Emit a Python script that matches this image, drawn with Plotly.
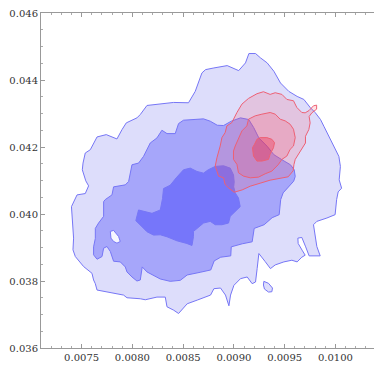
import plotly.graph_objects as go

# Blue density contours (outer, middle, inner levels)
blue_outer_x = [0.00740, 0.007455, 0.007536, 0.007569, 0.007541, 0.007507, 0.007514, 0.007536, 0.007586, 0.007602,
                0.007652, 0.007743, 0.007766, 0.007848, 0.007898, 0.00794, 0.008045, 0.008078, 0.008144, 0.008258,
                0.008406, 0.008553, 0.008619, 0.008685, 0.008721, 0.008803, 0.008934, 0.009047, 0.009114, 0.009148,
                0.009213, 0.009262, 0.009328, 0.009394, 0.009459, 0.009541, 0.009623, 0.009689, 0.009754, 0.0098,
                0.009853, 0.009886, 0.009918, 0.009984, 0.010034, 0.010049, 0.010037, 0.010061, 0.010027, 0.010012,
                0.009997, 0.009916, 0.009817, 0.009784, 0.0098, 0.009817, 0.00985, 0.009741, 0.009707, 0.009669,
                0.00963, 0.009633, 0.009672, 0.009702, 0.009669, 0.009623, 0.009571, 0.009492, 0.009407, 0.00936,
                0.009308, 0.009259, 0.009246, 0.009229, 0.009213, 0.00918, 0.009131, 0.009065, 0.009, 0.008967,
                0.008951, 0.008917, 0.008868, 0.008803, 0.00877, 0.008639, 0.00854, 0.008455, 0.008406, 0.008341,
                0.008324, 0.008242, 0.008127, 0.008078, 0.007947, 0.007913, 0.007832, 0.00775, 0.007652, 0.007635,
                0.007618, 0.007602, 0.00752, 0.007438, 0.007415, 0.007421, 0.007406]
blue_outer_y = [0.04022, 0.04057, 0.04061, 0.04084, 0.04099, 0.04132, 0.04152, 0.04182, 0.04192, 0.04202,
                0.04230, 0.04237, 0.04234, 0.04224, 0.04252, 0.04272, 0.04287, 0.04297, 0.04324, 0.04327,
                0.04333, 0.04332, 0.04366, 0.04421, 0.04431, 0.04436, 0.04443, 0.04428, 0.04451, 0.04479,
                0.04479, 0.04466, 0.04451, 0.04426, 0.04391, 0.04366, 0.04351, 0.04342, 0.04317, 0.04303,
                0.04282, 0.04262, 0.04242, 0.04202, 0.04172, 0.04142, 0.04102, 0.04077, 0.04066, 0.04043,
                0.03998, 0.03988, 0.03978, 0.03968, 0.03933, 0.03903, 0.03875, 0.03875, 0.03902, 0.03930,
                0.03928, 0.03912, 0.03892, 0.03877, 0.03871, 0.03857, 0.03862, 0.03857, 0.03848, 0.03837,
                0.03858, 0.03878, 0.03882, 0.03837, 0.03797, 0.03792, 0.03812, 0.03807, 0.03787, 0.03758,
                0.03726, 0.03758, 0.03779, 0.03777, 0.03758, 0.03743, 0.03732, 0.03703, 0.03713, 0.03723,
                0.03752, 0.03752, 0.03744, 0.03747, 0.03750, 0.03758, 0.03762, 0.03768, 0.03773, 0.03792,
                0.03803, 0.03823, 0.03843, 0.03873, 0.03893, 0.03928, 0.04013]

blue_island_x = [0.009295, 0.009341, 0.00938, 0.009374, 0.009341, 0.009301, 0.009291]
blue_island_y = [0.03799, 0.03793, 0.03779, 0.03768, 0.03767, 0.03776, 0.03788]

blue_mid_x = [0.007815, 0.00793, 0.007963, 0.007996, 0.008061, 0.00811, 0.008176, 0.008242, 0.008291, 0.008341,
              0.008422, 0.008455, 0.008504, 0.008602, 0.008701, 0.008767, 0.008836, 0.008898, 0.008974, 0.009065,
              0.009146, 0.009195, 0.009246, 0.009328, 0.009394, 0.009473, 0.009557, 0.009594, 0.009604, 0.009589,
              0.009535, 0.009485, 0.009461, 0.009446, 0.009377, 0.009298, 0.0092, 0.00918, 0.009082, 0.008974,
              0.008969, 0.00887, 0.008806, 0.008772, 0.008668, 0.00854, 0.008472, 0.008373, 0.008275, 0.008209,
              0.008144, 0.008097, 0.008078, 0.008045, 0.007996, 0.007947, 0.00793, 0.007881, 0.007815, 0.007783,
              0.00775, 0.007717, 0.007701, 0.007652, 0.007618, 0.007618, 0.007635, 0.007635, 0.007667, 0.007717,
              0.007717, 0.007733, 0.007799]
blue_mid_y = [0.04081, 0.04087, 0.04097, 0.04147, 0.04152, 0.04172, 0.04212, 0.04227, 0.04250, 0.04240,
              0.04240, 0.04270, 0.04280, 0.04282, 0.04284, 0.04277, 0.04265, 0.04264, 0.04277, 0.04287,
              0.04282, 0.04258, 0.04227, 0.04202, 0.04177, 0.04162, 0.04147, 0.04132, 0.04112, 0.04098,
              0.04078, 0.04063, 0.04043, 0.03998, 0.03989, 0.03968, 0.03957, 0.03917, 0.03911, 0.03902,
              0.03875, 0.03871, 0.03860, 0.03833, 0.03826, 0.03818, 0.03802, 0.03799, 0.03806, 0.03817,
              0.03827, 0.03842, 0.03803, 0.03800, 0.03812, 0.03827, 0.03842, 0.03857, 0.03859, 0.03888,
              0.03903, 0.03898, 0.03873, 0.03865, 0.03878, 0.03902, 0.03927, 0.03957, 0.03973, 0.03993,
              0.04037, 0.04043, 0.04057]

blue_gap_x = [0.007783, 0.007815, 0.007864, 0.007881, 0.007848, 0.007815, 0.007789]
blue_gap_y = [0.03948, 0.03951, 0.03933, 0.03918, 0.03913, 0.03918, 0.03928]

blue_core_x = [0.008307, 0.008373, 0.008432, 0.008504, 0.00857, 0.008636, 0.008701, 0.008747, 0.008816, 0.008898,
               0.008964, 0.008996, 0.009003, 0.008998, 0.009013, 0.009045, 0.009062, 0.00903, 0.008964, 0.008947,
               0.008882, 0.008816, 0.008767, 0.008701, 0.008602, 0.008602, 0.008587, 0.008537, 0.008439, 0.008341,
               0.008275, 0.008209, 0.008144, 0.008078, 0.008034, 0.008061, 0.008193, 0.008275, 0.008297]
blue_core_y = [0.04076, 0.04086, 0.04108, 0.04132, 0.04137, 0.04127, 0.04122, 0.04132, 0.04142, 0.04144,
               0.04137, 0.04117, 0.04096, 0.04081, 0.04063, 0.04048, 0.04022, 0.04013, 0.03993, 0.03973,
               0.03968, 0.03968, 0.03978, 0.03973, 0.03948, 0.03933, 0.03906, 0.03912, 0.03920, 0.03932,
               0.03938, 0.03937, 0.03947, 0.03967, 0.03980, 0.04012, 0.04002, 0.04012, 0.04046]

# Red density contours (outer, middle, inner levels)
red_outer_x = [0.00903, 0.009079, 0.009144, 0.009227, 0.009291, 0.009357, 0.009407, 0.009473, 0.009522, 0.009587,
               0.00962, 0.009669, 0.009702, 0.009741, 0.009784, 0.009815, 0.009815, 0.009768, 0.009741, 0.009751,
               0.009738, 0.009705, 0.009705, 0.009656, 0.009604, 0.009591, 0.009584, 0.009535, 0.009456, 0.009357,
               0.009259, 0.009161, 0.009082, 0.009003, 0.008947, 0.008914, 0.008898, 0.008849, 0.008833, 0.008816,
               0.008833, 0.008849, 0.008865, 0.008882, 0.008914, 0.008931, 0.00898]
red_outer_y = [0.04303, 0.04328, 0.04345, 0.04359, 0.04365, 0.04357, 0.04362, 0.04357, 0.04342, 0.04338,
               0.04318, 0.04303, 0.04302, 0.04309, 0.04323, 0.04325, 0.04313, 0.04302, 0.04291, 0.04272,
               0.04252, 0.04232, 0.04212, 0.04187, 0.04163, 0.04147, 0.04129, 0.04111, 0.04107, 0.04101,
               0.04092, 0.04083, 0.04072, 0.04065, 0.04078, 0.04088, 0.04108, 0.04113, 0.04128, 0.04143,
               0.04168, 0.04183, 0.04203, 0.04228, 0.04243, 0.04263, 0.04273]

red_mid_x = [0.009144, 0.00921, 0.009276, 0.009357, 0.009407, 0.009456, 0.009505, 0.009554, 0.009587, 0.009604,
             0.009587, 0.009554, 0.009522, 0.009473, 0.009436, 0.009374, 0.009308, 0.009242, 0.009161, 0.009095,
             0.009045, 0.00903, 0.008996, 0.008996, 0.009013, 0.009045, 0.009079, 0.009128]
red_mid_y = [0.04283, 0.04293, 0.04298, 0.04303, 0.04298, 0.04283, 0.04278, 0.04268, 0.04253, 0.04228,
             0.04203, 0.04193, 0.04173, 0.04163, 0.04147, 0.04128, 0.04120, 0.04110, 0.04108, 0.04113,
             0.04123, 0.04148, 0.04163, 0.04188, 0.04203, 0.04223, 0.04248, 0.04263]

red_core_x = [0.009227, 0.009259, 0.009325, 0.009374, 0.0094, 0.00939, 0.009357, 0.009341, 0.009276, 0.009227,
              0.009193, 0.009183, 0.009203]
red_core_y = [0.04223, 0.04228, 0.04228, 0.04223, 0.04213, 0.04198, 0.04178, 0.04163, 0.04158, 0.04158,
              0.04173, 0.04198, 0.04208]

x_ticks = [0.0075, 0.0080, 0.0085, 0.0090, 0.0095, 0.0100]
x_labels = ["0.0075", "0.0080", "0.0085", "0.0090", "0.0095", "0.0100"]
y_ticks = [0.036, 0.038, 0.040, 0.042, 0.044, 0.046]
y_labels = ["0.036", "0.038", "0.040", "0.042", "0.044", "0.046"]

BLUE_LINE = "rgb(118,118,246)"
RED_LINE = "rgb(238,96,116)"

layers = [
    (blue_outer_x, blue_outer_y, "rgb(221,221,251)", BLUE_LINE),
    (blue_island_x, blue_island_y, "rgb(221,221,251)", BLUE_LINE),
    (blue_mid_x, blue_mid_y, "rgb(166,166,250)", BLUE_LINE),
    (blue_gap_x, blue_gap_y, "rgb(246,246,255)", BLUE_LINE),
    (blue_core_x, blue_core_y, "rgb(118,118,250)", BLUE_LINE),
    (red_outer_x, red_outer_y, "rgba(255,70,90,0.16)", RED_LINE),
    (red_mid_x, red_mid_y, "rgba(255,70,90,0.2)", RED_LINE),
    (red_core_x, red_core_y, "rgba(240,40,70,0.35)", RED_LINE),
]

fig = go.Figure()
for xs, ys, fill, line in layers:
    fig.add_trace(go.Scatter(
        x=xs + xs[:1], y=ys + ys[:1], mode="lines", fill="toself",
        fillcolor=fill, line=dict(color=line, width=1), hoverinfo="skip",
    ))

axis_font = dict(family="DejaVu Serif", size=10, color="#333333")
fig.update_layout(
    width=374, height=365,
    margin=dict(l=41, r=0, t=13, b=17),
    paper_bgcolor="white", plot_bgcolor="white",
    showlegend=False,
    xaxis=dict(
        range=[0.0071, 0.01038], tickvals=x_ticks, ticktext=x_labels,
        showgrid=False, zeroline=False, showline=True, linecolor="#999999", linewidth=1,
        mirror="ticks", ticks="inside", ticklen=4, tickcolor="#999999", tickfont=axis_font,
        minor=dict(tickmode="linear", tick0=0.0071, dtick=0.0001, ticks="inside", ticklen=2,
                   tickcolor="#aaaaaa", showgrid=False),
    ),
    yaxis=dict(
        range=[0.036, 0.046], tickvals=y_ticks, ticktext=y_labels,
        showgrid=False, zeroline=False, showline=True, linecolor="#999999", linewidth=1,
        ticks="inside", ticklen=4, tickcolor="#999999", tickfont=axis_font,
        minor=dict(tickmode="linear", tick0=0.036, dtick=0.0005, ticks="inside", ticklen=2,
                   tickcolor="#aaaaaa", showgrid=False),
    ),
)

fig.write_html("out.html")
